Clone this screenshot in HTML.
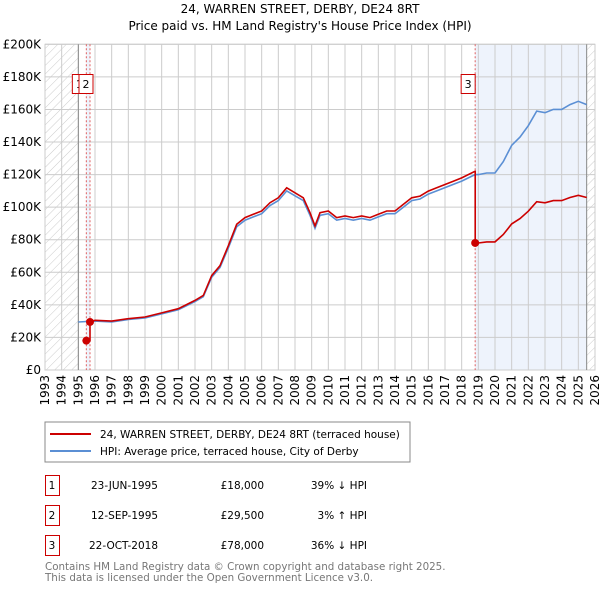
<!DOCTYPE html>
<html><head><meta charset="utf-8"><style>
body{margin:0;background:#fff;font-family:"DejaVu Sans","Liberation Sans",sans-serif;}
svg text{font-family:"DejaVu Sans","Liberation Sans",sans-serif;}
</style></head><body>
<svg id="c" width="600" height="590" viewBox="0 0 600 590" xmlns="http://www.w3.org/2000/svg">
<defs><pattern id="hatch" width="6" height="6" patternUnits="userSpaceOnUse" patternTransform="rotate(45)"><line x1="0" y1="0" x2="0" y2="6" stroke="#ccc" stroke-width="1"/></pattern></defs>
<text x="300" y="13" text-anchor="middle" font-size="12">24, WARREN STREET, DERBY, DE24 8RT</text>
<text x="300" y="30" text-anchor="middle" font-size="12">Price paid vs. HM Land Registry's House Price Index (HPI)</text>
<g id="plot"></g>
<rect x="45" y="422" width="365" height="40" fill="none" stroke="#888"/>
<line x1="50" y1="434" x2="91" y2="434" stroke="#cc0000" stroke-width="2"/>
<text x="100" y="438" font-size="10.5">24, WARREN STREET, DERBY, DE24 8RT (terraced house)</text>
<line x1="50" y1="451" x2="91" y2="451" stroke="#5b8fd4" stroke-width="2"/>
<text x="100" y="455" font-size="10.5">HPI: Average price, terraced house, City of Derby</text>
<g font-size="10.5">
<rect x="45.5" y="475.5" width="14" height="20" fill="none" stroke="#cc0000"/><text x="52" y="489" text-anchor="middle">1</text>
<text x="91" y="489">23-JUN-1995</text><text x="264" y="489" text-anchor="end">£18,000</text><text x="367" y="489" text-anchor="end">39% ↓ HPI</text>
<rect x="45.5" y="505.5" width="14" height="20" fill="none" stroke="#cc0000"/><text x="52" y="519" text-anchor="middle">2</text>
<text x="91" y="519">12-SEP-1995</text><text x="264" y="519" text-anchor="end">£29,500</text><text x="367" y="519" text-anchor="end">3% ↑ HPI</text>
<rect x="45.5" y="535.5" width="14" height="20" fill="none" stroke="#cc0000"/><text x="52" y="549" text-anchor="middle">3</text>
<text x="89" y="549">22-OCT-2018</text><text x="264" y="549" text-anchor="end">£78,000</text><text x="367" y="549" text-anchor="end">36% ↓ HPI</text>
</g>
<text x="45" y="570" font-size="10.3" fill="#777">Contains HM Land Registry data © Crown copyright and database right 2025.</text>
<text x="45" y="581" font-size="10.3" fill="#777">This data is licensed under the Open Government Licence v3.0.</text>
</svg>
<script>
const hpiYears=[1995.0,1995.5,1996,1997,1998,1999,2000,2001,2002,2002.5,2003,2003.5,2004,2004.5,2005,2005.5,2006,2006.5,2007,2007.5,2008,2008.5,2008.9,2009.2,2009.5,2010,2010.5,2011,2011.5,2012,2012.5,2013,2013.5,2014,2014.5,2015,2015.5,2016,2016.5,2017,2017.5,2018,2018.8,2019,2019.5,2020,2020.5,2021,2021.5,2022,2022.5,2023,2023.5,2024,2024.5,2025,2025.5];
const hpiValues=[29.5,29.8,30,29.5,31,32,34.5,37,42,45,57,63,75,88,92,94,96,101,104,110,107,104,95,87,95,96,92,93,92,93,92,94,96,96,100,104,105,108,110,112,114,116,120,120,121,121,128,138,143,150,159,158,160,160,163,165,163];
const saleYears=[1995.48,1995.70,2018.81];
const salePrices=[18,29.5,78];
const yTicks=[0,20,40,60,80,100,120,140,160,180,200];
const yLabels=["£0","£20K","£40K","£60K","£80K","£100K","£120K","£140K","£160K","£180K","£200K"];
const xTicks=[1993,1994,1995,1996,1997,1998,1999,2000,2001,2002,2003,2004,2005,2006,2007,2008,2009,2010,2011,2012,2013,2014,2015,2016,2017,2018,2019,2020,2021,2022,2023,2024,2025,2026];
const X0=45,X1=595,Y0=370,Y1=44.3;
const x=v=>X0+(v-1993)/33*(X1-X0);
const y=v=>Y0-v/200*(Y0-Y1);
const g=document.getElementById('plot');
const NS='http://www.w3.org/2000/svg';
function mk(t,a,p){const e=document.createElementNS(NS,t);for(const k in a)e.setAttribute(k,a[k]);(p||g).appendChild(e);return e;}
function hpiAt(t){for(let i=0;i<hpiYears.length-1;i++){if(t<=hpiYears[i+1]){const f=(t-hpiYears[i])/(hpiYears[i+1]-hpiYears[i]);return hpiValues[i]+f*(hpiValues[i+1]-hpiValues[i]);}}return hpiValues[hpiValues.length-1];}
let r=mk('rect',{x:x(1993),y:Y1,width:x(1995)-x(1993),height:Y0-Y1,fill:'url(#hatch)'});

r=mk('rect',{x:x(2025.5),y:Y1,width:X1-x(2025.5),height:Y0-Y1,fill:'url(#hatch)'});

r=mk('rect',{x:x(saleYears[0]),y:Y1,width:x(saleYears[1])-x(saleYears[0]),height:Y0-Y1,fill:'#eef3fc'});

r=mk('rect',{x:x(saleYears[2]),y:Y1,width:x(2025.5)-x(saleYears[2]),height:Y0-Y1,fill:'#eef3fc'});

yTicks.forEach((v,i)=>{
 const l=mk('line',{x1:X0,x2:X1,y1:y(v),y2:y(v),stroke:'#ccc'});
 
 const t=mk('text',{x:41,y:y(v)+4,'text-anchor':'end','font-size':12});t.textContent=yLabels[i];
 
});
xTicks.forEach(v=>{
 const l=mk('line',{x1:x(v),x2:x(v),y1:Y1,y2:Y0,stroke:'#ccc'});
 
 const t=mk('text',{x:0,y:0,'font-size':12,'text-anchor':'end',transform:`translate(${x(v)+4},${Y0+5}) rotate(-90)`});t.textContent=v;
 
});
r=mk('rect',{x:X0,y:Y1,width:X1-X0,height:Y0-Y1,fill:'none',stroke:'#ccc'});

[1995,2025.5].forEach(v=>{const l=mk('line',{x1:x(v),x2:x(v),y1:Y1,y2:Y0,stroke:'#888'});});
saleYears.forEach(v=>{const l=mk('line',{x1:x(v),x2:x(v),y1:Y1,y2:Y0,stroke:'#e06060','stroke-dasharray':'2,2'});});
let d=hpiYears.map((t,i)=>(i?'L':'M')+x(t).toFixed(1)+','+y(hpiValues[i]).toFixed(1)).join('');
let p=mk('path',{d:d,fill:'none',stroke:'#5b8fd4','stroke-width':1.6});

let pts=[[saleYears[0],salePrices[0]],[saleYears[1],salePrices[0]],[saleYears[1],salePrices[1]]];
const r2=salePrices[1]/hpiAt(saleYears[1])*1.03;
hpiYears.forEach((t,i)=>{if(t>saleYears[1]&&t<saleYears[2])pts.push([t,hpiValues[i]*r2]);});
pts.push([saleYears[2],hpiAt(saleYears[2])*r2]);pts.push([saleYears[2],salePrices[2]]);
const r3=salePrices[2]/hpiAt(saleYears[2]);
hpiYears.forEach((t,i)=>{if(t>saleYears[2])pts.push([t,hpiValues[i]*r3]);});
d=pts.map((q,i)=>(i?'L':'M')+x(q[0]).toFixed(1)+','+y(q[1]).toFixed(1)).join('');
p=mk('path',{d:d,fill:'none',stroke:'#cc0000','stroke-width':1.6});

saleYears.forEach((t,i)=>{const c=mk('circle',{cx:x(t),cy:y(salePrices[i]),r:4,fill:'#cc0000'});});
const boxX=[x(saleYears[0])-7,x(saleYears[1])-4,x(saleYears[2])-7];
['1','2','3'].forEach((s,i)=>{
 const b=mk('rect',{x:boxX[i]-7,y:74.5,width:14,height:19,fill:'#fff',stroke:'#cc0000'});
 
 const t=mk('text',{x:boxX[i],y:88,'text-anchor':'middle','font-size':11});t.textContent=s;
 
});
</script>
</body></html>
